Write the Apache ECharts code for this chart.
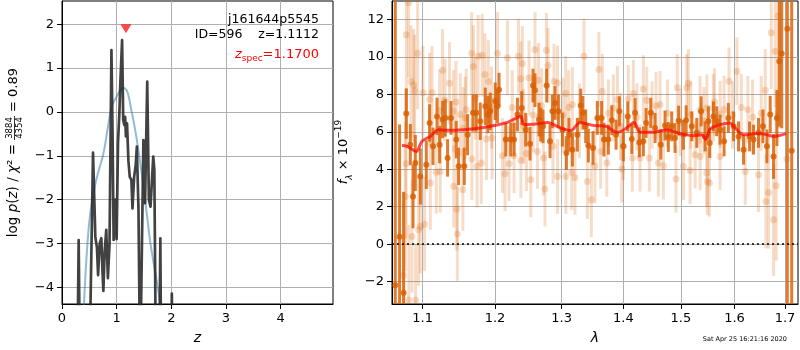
<!DOCTYPE html>
<html><head><meta charset="utf-8">
<script src="https://cdn.jsdelivr.net/npm/echarts@6/dist/echarts.min.js"></script>
<style>html,body{margin:0;padding:0;background:#fff}#c{width:800px;height:350px}</style>
</head><body><div id="c"></div>
<script>
// ---------- Left panel: p(z) ----------
const pzZ   = [0.28,0.305,0.33,0.50,0.568,0.61,0.64,0.66,0.69,0.72,0.74,0.757,0.78,0.81,0.84,0.87,0.905,0.925,0.945,0.975,1.00,1.025,1.05,1.07,1.10,1.12,1.14,1.155,1.17,1.19,1.215,1.24,1.27,1.29,1.32,1.35,1.37,1.40,1.43,1.46,1.49,1.52,1.56,1.59,1.62,1.67,1.69,1.72,1.78,1.80,1.815,2.0,2.01,2.025,3.0,4.96];
const pzLog = [-6,-2.92,-6,-6,-0.93,-2.85,-3.1,-3.72,-3.0,-2.88,-3.6,-4.08,-3.2,-2.69,-3.79,-3.0,1.41,-0.5,-2.92,-2.0,-2.9,-0.7,-0.02,0.73,1.64,-0.18,-0.3,-0.11,-0.56,-0.26,-1.1,-1.48,-1.55,-2.2,-1.48,-1.2,-0.79,-2.24,-6,-6,-0.64,-2.08,0.69,-2.0,-2.16,-1.02,-1.32,-6,-6,-2.88,-6,-6,-4.14,-6,-6,-6];
const priorZ   = [0.38,0.40,0.45,0.51,0.60,0.68,0.76,0.84,0.91,1.00,1.06,1.12,1.18,1.22,1.27,1.32,1.37,1.43,1.49,1.55,1.61,1.67,1.73,1.80,1.85,1.90];
const priorLog = [-6,-4.5,-3.3,-2.39,-1.7,-1.3,-0.94,-0.35,0.12,0.35,0.48,0.55,0.50,0.35,0.04,-0.28,-0.64,-1.15,-1.7,-2.3,-2.92,-3.4,-3.83,-4.38,-4.8,-6];
const zSpec = 1.17, zSpecMarkY = 1.90;
const leftXTicks = [0,1,2,3,4];
const leftYTicks = [-4,-3,-2,-1,0,1,2];

// ---------- Right panel: spectrum ----------
const darkLam  = [1.0645,1.0700,1.0752,1.0787,1.0839,1.0874,1.0904,1.0970,1.1049,1.1093,1.1138,1.1192,1.1227,1.1267,1.1304,1.1335,1.1381,1.1454,1.1486,1.1565,1.1611,1.1686,1.1732,1.1789,1.1860,1.1898,1.1931,1.2003,1.2035,1.2058,1.2155,1.2228,1.2277,1.2327,1.2391,1.2450,1.2515,1.2560,1.2590,1.2651,1.2676,1.2712,1.2768,1.2819,1.2856,1.2896,1.2949,1.3011,1.3074,1.3114,1.3168,1.3247,1.3300,1.3336,1.3380,1.3423,1.3498,1.3569,1.3639,1.3677,1.3750,1.3806,1.3878,1.3933,1.4000,1.4074,1.4142,1.4198,1.4271,1.4340,1.4387,1.4468,1.4543,1.4643,1.4718,1.4777,1.4837,1.4896,1.4960,1.5047,1.5096,1.5199,1.5291,1.5370,1.5444,1.5505,1.5530,1.5599,1.5662,1.5724,1.5800,1.5882,1.5981,1.6077,1.6174,1.6291,1.6369,1.6467,1.6555,1.6634,1.6700,1.6767,1.6835,1.6884,1.6933,1.7047,1.7137];
const darkFlux = [-2.2,0.4,-2.6,6.98,5.32,2.55,4.34,3.62,4.25,6.48,5.23,6.83,5.32,6.66,6.75,4.61,6.75,5.59,4.16,4.16,5.85,7.02,7.02,6.57,7.37,6.93,7.10,7.64,7.37,8.26,5.59,5.59,5.59,6.93,7.28,6.12,5.37,8.48,8.23,6.66,6.39,6.30,8.48,5.50,7.10,7.55,7.10,6.12,4.87,5.85,5.05,5.85,7.41,7.02,6.30,5.27,5.14,6.75,6.75,5.59,5.59,6.62,5.85,7.10,5.23,6.83,5.62,7.02,5.44,5.50,6.48,7.02,6.21,5.32,6.34,5.73,6.30,5.68,6.60,5.85,6.62,6.30,5.95,7.10,5.76,6.57,5.41,6.83,6.57,6.12,5.50,6.75,6.30,5.76,5.05,5.76,5.59,5.95,6.30,5.23,6.93,4.69,6.75,9.78,10.19,11.52,5.0];
const darkErr  = [20,6.0,5.4,1.35,1.1,1.7,1.5,1.5,1.3,1.0,1.0,1.0,1.0,1.0,1.0,1.0,0.9,1.0,1.0,1.0,1.1,1.0,1.0,1.0,1.0,1.0,1.0,1.0,0.9,0.9,0.9,0.9,0.9,0.9,0.9,0.9,0.9,0.9,0.9,0.9,0.9,0.9,0.9,0.9,0.9,0.9,0.9,0.9,0.9,0.9,0.9,0.9,0.9,0.9,0.9,0.9,0.9,0.9,0.9,0.9,0.8,0.8,0.8,0.8,0.8,0.8,0.8,0.8,0.8,0.8,0.8,0.8,0.8,0.8,0.8,0.8,0.8,0.8,0.8,0.8,0.8,0.8,0.8,0.8,0.8,0.8,0.8,0.8,0.8,0.8,0.8,0.8,0.8,0.8,0.8,0.8,0.8,0.8,0.9,0.9,1.0,1.2,1.5,3.5,4.0,15,30];

const lightLam  = [1.0752,1.0774,1.0783,1.0787,1.0817,1.0820,1.0848,1.0861,1.0882,1.0895,1.0908,1.0934,1.0947,1.0970,1.1005,1.1026,1.1093,1.1102,1.1125,1.1182,1.1227,1.1236,1.1267,1.1300,1.1361,1.1415,1.1420,1.1450,1.1461,1.1469,1.1509,1.1545,1.1550,1.1578,1.1591,1.1667,1.1670,1.1691,1.1720,1.1744,1.1758,1.1803,1.1816,1.1856,1.1877,1.1904,1.1950,1.1958,1.2035,1.2107,1.2145,1.2180,1.2203,1.2250,1.2277,1.2342,1.2376,1.2378,1.2401,1.2420,1.2461,1.2500,1.2526,1.2560,1.2590,1.2626,1.2642,1.2690,1.2718,1.2742,1.2764,1.2788,1.2865,1.2881,1.2934,1.2936,1.3020,1.3063,1.3065,1.3110,1.3157,1.3168,1.3209,1.3280,1.3353,1.3407,1.3472,1.3530,1.3595,1.3623,1.3651,1.3724,1.3750,1.3833,1.3900,1.3950,1.3973,1.4000,1.4084,1.4152,1.4169,1.4230,1.4283,1.4340,1.4399,1.4444,1.4490,1.4560,1.4601,1.4631,1.4689,1.4760,1.4914,1.4937,1.4990,1.5047,1.5108,1.5137,1.5168,1.5180,1.5260,1.5351,1.5353,1.5420,1.5475,1.5477,1.5486,1.5524,1.5599,1.5620,1.5724,1.5726,1.5800,1.5894,1.5960,1.6046,1.6130,1.6207,1.6259,1.6350,1.6467,1.6520,1.6600,1.6614,1.6666,1.6721,1.6767,1.6801,1.6821,1.6864,1.7035];
const lightFlux = [-1.66,2.55,4.3,11.2,12.9,-2.98,8.7,0.41,8.5,8.2,-2.98,10.2,0.77,0.94,8.1,1.07,7.73,3.27,8.1,3.84,7.14,3.89,9.3,7.7,8.6,7.1,3.09,7.6,1.87,0.54,6.93,2.91,6.2,6.75,7.19,10.2,4.55,9.5,7.8,4.16,10.05,4.34,10.1,9.07,5.62,8.7,7.3,5.67,10.2,4.73,3.77,9.96,4.3,7.3,4.73,10.05,8.84,4.48,9.66,6.3,4.84,8.89,3.44,6.9,10.4,4.96,8.76,7.4,4.61,2.95,10.37,9.55,5.23,8.71,8.62,3.62,6.9,8.05,3.62,7.3,3.84,7.46,3.57,6.6,10.05,3.35,2.37,4.19,9.34,4.96,8.17,4.34,7.0,7.28,7.73,6.3,4.02,5.23,7.77,4.61,8.05,6.8,4.61,8.3,7.69,4.61,6.9,7.4,4.34,7.46,4.19,7.0,3.48,8.36,6.5,4.16,8.36,8.62,3.94,6.9,4.78,7.19,4.69,6.6,3.8,7.28,3.35,3.27,7.28,7.6,4.69,6.93,7.2,8.71,6.9,9.25,7.3,3.89,7.19,6.8,3.71,7.0,8.23,2.28,2.76,11.3,1.3,10.32,3.12,12.2,4.55];
const lightErr  = [4,4,4,4,4,4,3,3,3,3,3,3,3,2.5,2.5,2.5,2.5,2.5,2.5,2.2,2.2,2.2,2.2,2.2,2.2,2.2,2.2,2.2,2.2,2.5,2.2,2.2,2.2,2.2,2.2,2.2,2.2,2.2,2.2,2.2,2.2,2.2,2.2,2.2,2.2,2.2,2.2,2.2,2.2,2,2,2,2,2,2,2,2,2,2,2,2,2,2,2,2,2,2,2,2,2,2,2,2,2,2,2,2,2,2,2,2,2,2,2,2,2,2,2,2,2,2,1.8,1.8,1.8,1.8,1.8,1.8,1.8,1.8,1.8,1.8,1.8,1.8,1.8,1.8,1.8,1.8,1.8,1.8,1.8,1.8,1.8,1.8,1.8,1.8,1.8,1.8,1.8,1.8,1.8,1.8,1.8,1.8,1.8,1.8,1.8,1.8,1.8,1.8,1.8,1.8,1.8,1.8,1.8,1.8,1.8,1.8,1.8,1.8,2.0,2.0,2.0,2.2,2.5,3,3,3,3,4,6];

const modelLam  = [1.0731,1.0796,1.0917,1.0992,1.1102,1.1213,1.1327,1.1555,1.1789,1.1986,1.2180,1.2376,1.2425,1.2626,1.2777,1.2984,1.3141,1.3289,1.3514,1.3705,1.3890,1.4029,1.4181,1.4283,1.4513,1.4749,1.4987,1.5228,1.5383,1.5459,1.5537,1.5724,1.5914,1.5981,1.6174,1.6436,1.6634,1.6767,1.7020];
const modelFlux = [5.27,5.23,4.96,5.5,5.76,6.12,6.09,6.12,6.21,6.34,6.51,6.83,6.39,6.44,6.51,6.21,6.07,6.51,6.34,6.30,5.98,6.16,6.51,5.98,5.98,6.12,5.91,5.80,5.85,5.59,6.16,6.39,6.48,6.30,5.85,5.91,5.85,5.76,5.91];

const lamTicks = [1.1,1.2,1.3,1.4,1.5,1.6,1.7];
const fluxTicks = [-2,0,2,4,6,8,10,12];
const lamRange = [1.0603, 1.7267];

// ---------- build ----------
const FONT = 'DejaVu Sans';
const minus = v => String(v).replace('-', '\u2212');
const GRID_C = '#b0b0b0';

function xyAxis(gridIndex, min, max, ticks, fmt, extra) {
  return Object.assign({
    gridIndex, type: 'value', min, max,
    axisLine: { show: true, onZero: false, lineStyle: { color: '#000', width: 1 } },
    axisTick: { show: true, length: 5, customValues: ticks, lineStyle: { color: '#000' } },
    axisLabel: { customValues: ticks, formatter: fmt, color: '#000', fontFamily: FONT, fontSize: 13, margin: 8 },
    splitLine: { show: true, lineStyle: { color: GRID_C, width: 1 } }
  }, extra || {});
}

const DARK = 'rgba(217,95,2,0.82)';
const LIGHT = 'rgba(217,95,2,0.22)';
function errRender(color, lw, r) {
  return function (params, api) {
    const cs = params.coordSys;
    const x = api.value(0), y = api.value(1), e = api.value(2);
    const c = api.coord([x, y]);
    const t = api.coord([x, y + e]);
    const b = api.coord([x, y - e]);
    const top = Math.max(cs.y, t[1]);
    const bot = Math.min(cs.y + cs.height, b[1]);
    const children = [];
    if (bot > top) children.push({ type: 'line', shape: { x1: c[0], y1: top, x2: c[0], y2: bot }, style: { stroke: color, lineWidth: lw } });
    if (c[1] >= cs.y && c[1] <= cs.y + cs.height) children.push({ type: 'circle', shape: { cx: c[0], cy: c[1], r: r }, style: { fill: color } });
    return { type: 'group', children };
  };
}

const zip2 = (a, b) => a.map((v, i) => [v, b[i]]);
const lightData = lightLam.map((l, i) => [Math.log(l), lightFlux[i], lightErr[i]]);
const darkData = darkLam.map((l, i) => [Math.log(l), darkFlux[i], darkErr[i]]);
const modelData = modelLam.map((l, i) => [Math.log(l), modelFlux[i]]);

const txt = (x, y, s, opts) => ({
  type: 'text', x, y, silent: true, z: 100,
  style: Object.assign({ text: s, fill: '#000', fontFamily: FONT, fontSize: 12.5, font: '12.5px "DejaVu Sans"',
    align: 'right', textAlign: 'right', verticalAlign: 'middle', textVerticalAlign: 'middle' }, opts || {})
});

const chart = echarts.init(document.getElementById('c'), null, { renderer: 'canvas' });
chart.setOption({
  animation: false,
  backgroundColor: '#fff',
  grid: [
    { left: 62, top: 1, width: 271, height: 303, show: true, borderColor: '#000', borderWidth: 1, containLabel: false, outerBoundsMode: 'none' },
    { left: 392, top: 1, width: 406, height: 303, show: true, borderColor: '#000', borderWidth: 1, containLabel: false, outerBoundsMode: 'none' }
  ],
  xAxis: [
    xyAxis(0, 0, 4.96, leftXTicks, v => minus(v), { name: 'z', nameLocation: 'middle', nameGap: 27,
      nameTextStyle: { fontFamily: FONT, fontSize: 14, fontStyle: 'italic', color: '#000' } }),
    xyAxis(1, Math.log(lamRange[0]), Math.log(lamRange[1]), lamTicks.map(Math.log), v => Math.exp(v).toFixed(1),
      { name: 'λ', nameLocation: 'middle', nameGap: 27, nameTextStyle: { fontFamily: FONT, fontSize: 14, fontStyle: 'italic', color: '#000' } })
  ],
  yAxis: [
    xyAxis(0, -4.38, 2.53, leftYTicks, v => minus(v)),
    xyAxis(1, -3.2, 13, fluxTicks, v => minus(v))
  ],
  series: [
    { type: 'line', xAxisIndex: 0, yAxisIndex: 0, data: zip2(priorZ, priorLog), smooth: 0.4, showSymbol: false, clip: true,
      lineStyle: { color: 'rgba(31,119,180,0.5)', width: 2 }, z: 3 },
    { type: 'line', xAxisIndex: 0, yAxisIndex: 0, data: zip2(pzZ, pzLog), showSymbol: false, clip: true,
      lineStyle: { color: 'rgba(40,40,40,0.88)', width: 2.7, join: 'round' }, z: 4 },
    { type: 'scatter', xAxisIndex: 0, yAxisIndex: 0, data: [[zSpec, zSpecMarkY]], symbol: 'triangle', symbolRotate: 180,
      symbolSize: [11, 9], itemStyle: { color: 'rgba(255,0,0,0.9)' }, z: 5 },
    { type: 'custom', xAxisIndex: 1, yAxisIndex: 1, data: lightData, renderItem: errRender(LIGHT, 3, 3.5), clip: true, z: 2 },
    { type: 'custom', xAxisIndex: 1, yAxisIndex: 1, data: darkData, renderItem: errRender(DARK, 3, 3), clip: true, z: 3 },
    { type: 'line', xAxisIndex: 1, yAxisIndex: 1, data: modelData, showSymbol: false, clip: true, smooth: 0.3,
      lineStyle: { color: 'rgba(255,0,0,0.7)', width: 3 }, z: 4,
      markLine: { silent: true, symbol: 'none', label: { show: false },
        lineStyle: { color: '#000', type: [2, 3], width: 1.5 }, data: [{ yAxis: 0 }] } }
  ],
  graphic: [
    txt(319, 20, 'j161644p5545'),
    txt(319, 35, 'ID=596    z=1.1112'),
    txt(319, 55, '{i|z}{s|spec}{r|=1.1700}', { fill: '#ff0000',
      rich: { i: { fontStyle: 'italic', fontSize: 13, fontFamily: FONT, fill: '#ff0000', lineHeight: 16 },
              s: { fontSize: 9, fontFamily: FONT, fill: '#ff0000', verticalAlign: 'bottom', lineHeight: 13 },
              r: { fontSize: 13, fontFamily: FONT, fill: '#ff0000', lineHeight: 16 } } }),
    { type: 'group', x: 13.5, y: 250, rotation: Math.PI / 2, silent: true, children: [
      { type: 'text', x: 106, y: 0, style: { text: '{r|log }{i|p}{r|(}{i|z}{r|) / }{i|χ}{r|² =}',
        align: 'right', textAlign: 'right', verticalAlign: 'middle', textVerticalAlign: 'middle', fill: '#000',
        rich: { r: { fontSize: 13.5, fontFamily: FONT, fill: '#000' }, i: { fontSize: 13.5, fontFamily: FONT, fontStyle: 'italic', fill: '#000' } } } },
      { type: 'text', x: 122, y: -3.5, style: { text: '3884', fontSize: 8.5, fontFamily: FONT, font: '8.5px "DejaVu Sans"', fill: '#000',
        align: 'center', textAlign: 'center', verticalAlign: 'middle', textVerticalAlign: 'middle' } },
      { type: 'line', shape: { x1: 110, y1: 1, x2: 134, y2: 1 }, style: { stroke: '#000', lineWidth: 0.8 } },
      { type: 'text', x: 122, y: 6, style: { text: '4354', fontSize: 8.5, fontFamily: FONT, font: '8.5px "DejaVu Sans"', fill: '#000',
        align: 'center', textAlign: 'center', verticalAlign: 'middle', textVerticalAlign: 'middle' } },
      { type: 'text', x: 138, y: 0, style: { text: '= 0.89', fontSize: 13, fontFamily: FONT, font: '13px "DejaVu Sans"', fill: '#000',
        align: 'left', textAlign: 'left', verticalAlign: 'middle', textVerticalAlign: 'middle' } }
    ] },
    { type: 'group', x: 344, y: 152, rotation: Math.PI / 2, silent: true, children: [
      { type: 'text', x: 0, y: 0, style: { text: '{i|f}{sub|λ}{r| × 10}{sup|−19}',
        align: 'center', textAlign: 'center', verticalAlign: 'middle', textVerticalAlign: 'middle', fill: '#000',
        rich: { i: { fontSize: 13, fontFamily: FONT, fontStyle: 'italic', fill: '#000', lineHeight: 20 },
                r: { fontSize: 13, fontFamily: FONT, fill: '#000', lineHeight: 20 },
                sub: { fontSize: 9, fontFamily: FONT, fontStyle: 'italic', fill: '#000', verticalAlign: 'bottom', lineHeight: 14 },
                sup: { fontSize: 9, fontFamily: FONT, fill: '#000', verticalAlign: 'top', lineHeight: 12 } } } }
    ] },
    txt(787, 339, 'Sat Apr 25 16:21:16 2020', { fontSize: 6.5, font: '6.5px "DejaVu Sans"' })
  ]
});
</script></body></html>
